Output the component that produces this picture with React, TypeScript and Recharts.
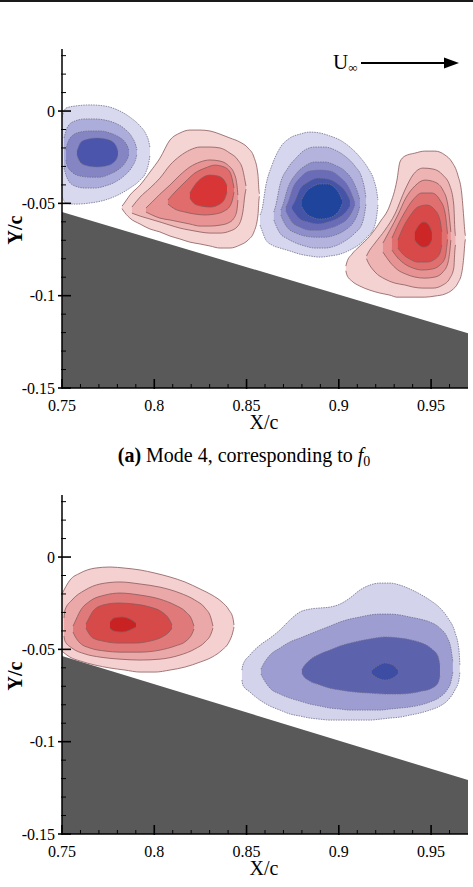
import React from 'react';
import { ComposedChart, Area, XAxis, YAxis } from 'recharts';

// each row: [X/c, lower Y/c, upper Y/c] of one filled contour band
type Band = [number, number, number];

const xMajor = [0.75, 0.8, 0.85, 0.9, 0.95];
const xLabels = ['0.75', '0.8', '0.85', '0.9', '0.95'];
const xMinor = [0.76, 0.77, 0.78, 0.79, 0.81, 0.82, 0.83, 0.84, 0.86, 0.87, 0.88, 0.89, 0.91, 0.92, 0.93, 0.94, 0.96];
const yMajor = [0, -0.05, -0.1, -0.15];
const yLabels = ['0', '-0.05', '-0.1', '-0.15'];
const yMinor = [0.03, 0.02, 0.01, -0.01, -0.02, -0.03, -0.04, -0.06, -0.07, -0.08, -0.09, -0.11, -0.12, -0.13, -0.14];

// ---------- (a) Mode 4 ----------
const wallA: Band[] = [[0.75, -0.15, -0.0547], [0.97, -0.15, -0.1203]];

const a1: Band[] = [
  [0.75, -0.0466, -0.0033], [0.7522, -0.0498, 0.0016], [0.757, -0.0504, 0.0027], [0.7652, -0.0498, 0.0033],
  [0.7733, -0.0482, 0.0027], [0.7803, -0.0455, 0.0005], [0.7868, -0.0417, -0.0033], [0.7923, -0.0374, -0.0081],
  [0.7955, -0.033, -0.0125], [0.7971, -0.0276, -0.0168], [0.7977, -0.0238, -0.02],
];
const a2: Band[] = [
  [0.7511, -0.0309, -0.0146], [0.7533, -0.0374, -0.0081], [0.757, -0.0406, -0.0054], [0.7625, -0.0417, -0.0043],
  [0.7679, -0.0417, -0.0043], [0.7733, -0.0406, -0.0049], [0.7787, -0.0385, -0.0065], [0.7841, -0.0347, -0.0098],
  [0.7879, -0.0303, -0.0141], [0.7901, -0.0255, -0.019], [0.7906, -0.0233, -0.0211],
];
const a3: Band[] = [
  [0.7522, -0.0265, -0.0211], [0.7527, -0.0293, -0.0184], [0.7554, -0.033, -0.0135], [0.7598, -0.0352, -0.0114],
  [0.7652, -0.0358, -0.0108], [0.7706, -0.0358, -0.0108], [0.776, -0.0341, -0.0119], [0.7809, -0.0314, -0.0141],
  [0.7841, -0.0282, -0.0168], [0.7858, -0.0249, -0.02], [0.7863, -0.0233, -0.0217],
];
const a4: Band[] = [
  [0.7581, -0.0238, -0.0217], [0.7587, -0.0255, -0.02], [0.7603, -0.0282, -0.0168], [0.7641, -0.0298, -0.0152],
  [0.769, -0.0303, -0.0146], [0.7738, -0.0298, -0.0152], [0.7776, -0.0282, -0.0168], [0.7798, -0.0255, -0.02],
  [0.7803, -0.0238, -0.0217],
];

const b1: Band[] = [
  [0.7825, -0.0528, -0.0515], [0.783, -0.0536, -0.0509], [0.7868, -0.058, -0.0455], [0.7923, -0.0612, -0.0401],
  [0.7977, -0.0639, -0.033], [0.8031, -0.0655, -0.0255], [0.8085, -0.0677, -0.0157], [0.8139, -0.0693, -0.0119],
  [0.8193, -0.071, -0.0103], [0.8248, -0.072, -0.0103], [0.8302, -0.0731, -0.0108], [0.8356, -0.0742, -0.0125],
  [0.841, -0.0742, -0.0146], [0.8464, -0.0726, -0.0168], [0.8508, -0.0699, -0.02], [0.854, -0.0655, -0.0249],
  [0.8562, -0.0563, -0.0347], [0.8567, -0.0482, -0.0428], [0.857, -0.0462, -0.0448],
];
const b2: Band[] = [
  [0.7879, -0.0553, -0.052], [0.7923, -0.0569, -0.0466], [0.7977, -0.0585, -0.0417], [0.8031, -0.0601, -0.0363],
  [0.8085, -0.0618, -0.0293], [0.8139, -0.0634, -0.0244], [0.8193, -0.0645, -0.0211], [0.8248, -0.0655, -0.0195],
  [0.8302, -0.0661, -0.0195], [0.8356, -0.0661, -0.02], [0.841, -0.065, -0.0228], [0.8453, -0.0623, -0.0265],
  [0.848, -0.0547, -0.032], [0.8491, -0.0455, -0.0374], [0.8497, -0.0423, -0.0406],
];
const b3: Band[] = [
  [0.7955, -0.0547, -0.0525], [0.7988, -0.0563, -0.0493], [0.8031, -0.058, -0.045], [0.8085, -0.059, -0.0401],
  [0.8139, -0.0601, -0.0347], [0.8193, -0.0612, -0.0303], [0.8248, -0.0623, -0.0276], [0.8302, -0.0623, -0.0265],
  [0.8356, -0.0618, -0.0271], [0.8399, -0.0607, -0.0293], [0.8432, -0.058, -0.0336], [0.8448, -0.0536, -0.0401],
  [0.8453, -0.0482, -0.0455],
];
const b4: Band[] = [
  [0.8074, -0.0504, -0.0482], [0.8112, -0.0531, -0.0439], [0.8166, -0.0547, -0.0385], [0.822, -0.0558, -0.0336],
  [0.8275, -0.0563, -0.0309], [0.8329, -0.0558, -0.0293], [0.8378, -0.0542, -0.0303], [0.841, -0.0515, -0.033],
  [0.8426, -0.0471, -0.0385], [0.8432, -0.0439, -0.0417],
];
const b5: Band[] = [
  [0.8193, -0.0471, -0.0444], [0.822, -0.0504, -0.0401], [0.8258, -0.0515, -0.0363], [0.8302, -0.052, -0.0347],
  [0.8345, -0.0509, -0.0352], [0.8378, -0.0482, -0.0374], [0.8394, -0.0439, -0.0406],
];

const c1: Band[] = [
  [0.8573, -0.0618, -0.0563], [0.8583, -0.0645, -0.0536], [0.8605, -0.0699, -0.0401], [0.8638, -0.0726, -0.0293],
  [0.8681, -0.0742, -0.02], [0.8735, -0.0758, -0.0146], [0.8789, -0.0775, -0.0125], [0.8843, -0.0785, -0.0114],
  [0.8898, -0.0791, -0.0119], [0.8952, -0.0785, -0.0135], [0.9006, -0.0775, -0.0157], [0.906, -0.0753, -0.0195],
  [0.9114, -0.072, -0.0249], [0.9158, -0.0677, -0.0309], [0.919, -0.0634, -0.0374], [0.9206, -0.0563, -0.0439],
  [0.9212, -0.0509, -0.0482],
];
const c2: Band[] = [
  [0.8648, -0.059, -0.0547], [0.8659, -0.0618, -0.0509], [0.8681, -0.0661, -0.0401], [0.8724, -0.0693, -0.0309],
  [0.8768, -0.0715, -0.0255], [0.8816, -0.0731, -0.0211], [0.8871, -0.0742, -0.0195], [0.8925, -0.0742, -0.0195],
  [0.8979, -0.0731, -0.0211], [0.9033, -0.0704, -0.0244], [0.9087, -0.0661, -0.0298], [0.9125, -0.0612, -0.0363],
  [0.9141, -0.0547, -0.0428], [0.9147, -0.0504, -0.0471],
];
const c3: Band[] = [
  [0.8686, -0.0563, -0.0536], [0.8697, -0.059, -0.0509], [0.8724, -0.0634, -0.0417], [0.8768, -0.0661, -0.0341],
  [0.8816, -0.0677, -0.0298], [0.8871, -0.0683, -0.0276], [0.8925, -0.0683, -0.0276], [0.8979, -0.0672, -0.0293],
  [0.9033, -0.0645, -0.0325], [0.9076, -0.0607, -0.0379], [0.9103, -0.0553, -0.0444], [0.9114, -0.0515, -0.0482],
];
const c4: Band[] = [
  [0.8713, -0.0542, -0.052], [0.8724, -0.0563, -0.0498], [0.8751, -0.0607, -0.0417], [0.8789, -0.0628, -0.0363],
  [0.8843, -0.0645, -0.0325], [0.8898, -0.0645, -0.032], [0.8952, -0.0634, -0.0325], [0.9006, -0.0612, -0.0358],
  [0.9049, -0.058, -0.0406], [0.9076, -0.0536, -0.0466], [0.9087, -0.0509, -0.0498],
];
const c5: Band[] = [
  [0.8746, -0.0531, -0.0515], [0.8757, -0.0547, -0.0498], [0.8789, -0.0585, -0.0423], [0.8833, -0.0601, -0.0385],
  [0.8887, -0.0612, -0.0363], [0.8941, -0.0601, -0.0368], [0.8995, -0.058, -0.0395], [0.9038, -0.0547, -0.0439],
  [0.906, -0.0515, -0.0482],
];
const c6: Band[] = [
  [0.88, -0.052, -0.0477], [0.8822, -0.0553, -0.0439], [0.8854, -0.0574, -0.0412], [0.8898, -0.0585, -0.0395],
  [0.8941, -0.058, -0.0395], [0.8979, -0.0563, -0.0417], [0.9006, -0.0531, -0.0455], [0.9017, -0.0504, -0.0482],
];

const d1: Band[] = [
  [0.9038, -0.0865, -0.084], [0.9044, -0.0888, -0.0818], [0.9071, -0.0921, -0.0775], [0.9114, -0.0948, -0.0731],
  [0.9168, -0.097, -0.0677], [0.9223, -0.0986, -0.0601], [0.9277, -0.0997, -0.0509], [0.9315, -0.1008, -0.0374],
  [0.9331, -0.1008, -0.0276], [0.9358, -0.1008, -0.0244], [0.9412, -0.1008, -0.0228], [0.9466, -0.1008, -0.0217],
  [0.9521, -0.1002, -0.0217], [0.9575, -0.0991, -0.0238], [0.9613, -0.097, -0.0276], [0.9645, -0.0932, -0.0347],
  [0.9667, -0.0872, -0.0455], [0.9678, -0.078, -0.059], [0.9683, -0.0715, -0.0655], [0.9686, -0.0695, -0.0675],
];
const d2: Band[] = [
  [0.915, -0.08, -0.0785], [0.9158, -0.0818, -0.0769], [0.9196, -0.0872, -0.0715], [0.925, -0.091, -0.0645],
  [0.9304, -0.0932, -0.0558], [0.9358, -0.0942, -0.0428], [0.9401, -0.0953, -0.0347], [0.9456, -0.0959, -0.0309],
  [0.951, -0.0959, -0.0314], [0.9564, -0.0942, -0.0347], [0.9602, -0.0905, -0.0406], [0.9623, -0.085, -0.0509],
  [0.9629, -0.0753, -0.0645], [0.9632, -0.0725, -0.0675],
];
const d3: Band[] = [
  [0.9239, -0.0764, -0.0715], [0.9277, -0.0818, -0.0645], [0.932, -0.0861, -0.0563], [0.9363, -0.0883, -0.0471],
  [0.9412, -0.0899, -0.0406], [0.9466, -0.0905, -0.0374], [0.9521, -0.0899, -0.0385], [0.9564, -0.0872, -0.0428],
  [0.9591, -0.0823, -0.0509], [0.9602, -0.0753, -0.0601], [0.9607, -0.0699, -0.0655],
];
const d4: Band[] = [
  [0.9288, -0.0753, -0.0688], [0.932, -0.0796, -0.0618], [0.9358, -0.0829, -0.0547], [0.9401, -0.085, -0.0482],
  [0.945, -0.0861, -0.0444], [0.9504, -0.0856, -0.0444], [0.9548, -0.0834, -0.0482], [0.9575, -0.0796, -0.0547],
  [0.9586, -0.0726, -0.0634], [0.9589, -0.0695, -0.0665],
];
const d5: Band[] = [
  [0.932, -0.0742, -0.0699], [0.9347, -0.0775, -0.0634], [0.9385, -0.0802, -0.0569], [0.9428, -0.0818, -0.052],
  [0.9477, -0.0818, -0.0509], [0.9521, -0.0802, -0.0536], [0.9548, -0.0769, -0.059], [0.9558, -0.0726, -0.0655],
];
const d6: Band[] = [
  [0.9412, -0.0699, -0.0655], [0.9434, -0.0726, -0.0618], [0.9461, -0.0737, -0.0601], [0.9488, -0.0726, -0.0618],
  [0.9504, -0.0699, -0.0655],
];

// ---------- second mode ----------
const wallB: Band[] = [[0.75, -0.15, -0.0536], [0.97, -0.15, -0.1208]];

const e1: Band[] = [
  [0.75, -0.051, -0.02], [0.7543, -0.0542, -0.0125], [0.7598, -0.0563, -0.0087], [0.7679, -0.0585, -0.006],
  [0.776, -0.0601, -0.0054], [0.7841, -0.0612, -0.006], [0.7923, -0.0623, -0.007], [0.8004, -0.0623, -0.0087],
  [0.8085, -0.0612, -0.0108], [0.8166, -0.0596, -0.0135], [0.8248, -0.0569, -0.0173], [0.8313, -0.0542, -0.0206],
  [0.8367, -0.0504, -0.0244], [0.8405, -0.046, -0.0287], [0.8426, -0.0406, -0.033], [0.8432, -0.0379, -0.0368],
];
const e2: Band[] = [
  [0.7511, -0.0428, -0.033], [0.7516, -0.0455, -0.0287], [0.7554, -0.0493, -0.0233], [0.7625, -0.0525, -0.0179],
  [0.7706, -0.0542, -0.0146], [0.7814, -0.0553, -0.0135], [0.7923, -0.0558, -0.0146], [0.8031, -0.0553, -0.0163],
  [0.8139, -0.0531, -0.0195], [0.822, -0.0498, -0.0233], [0.8275, -0.046, -0.0276], [0.8307, -0.0417, -0.033],
  [0.8318, -0.0385, -0.0374],
];
const e3: Band[] = [
  [0.756, -0.0406, -0.0374], [0.757, -0.0428, -0.0352], [0.7598, -0.0466, -0.0293], [0.7652, -0.0493, -0.0238],
  [0.7733, -0.0509, -0.0206], [0.7814, -0.0515, -0.0195], [0.7923, -0.0515, -0.0206], [0.8031, -0.0504, -0.0228],
  [0.8112, -0.0482, -0.026], [0.8172, -0.0455, -0.0298], [0.8204, -0.0417, -0.0341], [0.8215, -0.039, -0.0374],
];
const e4: Band[] = [
  [0.763, -0.0385, -0.0363], [0.7641, -0.0406, -0.0341], [0.7668, -0.0439, -0.0293], [0.7722, -0.0455, -0.026],
  [0.7803, -0.0466, -0.0249], [0.7895, -0.0466, -0.0255], [0.7977, -0.0455, -0.0271], [0.8042, -0.0433, -0.0298],
  [0.808, -0.0406, -0.0336], [0.8096, -0.0385, -0.0368],
];
const e5: Band[] = [
  [0.776, -0.0385, -0.0352], [0.7782, -0.0401, -0.033], [0.7825, -0.0406, -0.0325], [0.7868, -0.0395, -0.0336],
  [0.7901, -0.0379, -0.0358],
];

const f1: Band[] = [
  [0.8475, -0.0666, -0.0612], [0.848, -0.0693, -0.0585], [0.8518, -0.0731, -0.0531], [0.8573, -0.0775, -0.0477],
  [0.8627, -0.0807, -0.0439], [0.8681, -0.0829, -0.0395], [0.8735, -0.085, -0.0341], [0.8789, -0.0861, -0.0298],
  [0.8843, -0.0872, -0.0282], [0.8898, -0.0878, -0.0276], [0.8952, -0.0883, -0.0271], [0.9006, -0.0883, -0.0255],
  [0.906, -0.0883, -0.0222], [0.9114, -0.0883, -0.0179], [0.9168, -0.0883, -0.0152], [0.9223, -0.0878, -0.0141],
  [0.9277, -0.0872, -0.0141], [0.9331, -0.0867, -0.0152], [0.9385, -0.0856, -0.0173], [0.9439, -0.0845, -0.02],
  [0.9493, -0.0829, -0.0233], [0.9548, -0.0807, -0.0276], [0.9591, -0.0775, -0.033], [0.9629, -0.072, -0.0406],
  [0.9651, -0.0666, -0.0504], [0.9656, -0.0623, -0.0585],
];
const f2: Band[] = [
  [0.8578, -0.0634, -0.0607], [0.8589, -0.0655, -0.0585], [0.8627, -0.071, -0.0531], [0.8681, -0.0742, -0.0493],
  [0.8735, -0.0764, -0.046], [0.8789, -0.078, -0.0439], [0.8843, -0.0796, -0.0417], [0.8898, -0.0807, -0.0395],
  [0.8952, -0.0818, -0.0374], [0.9006, -0.0823, -0.0352], [0.906, -0.0829, -0.0336], [0.9114, -0.0829, -0.0325],
  [0.9168, -0.0829, -0.0314], [0.9223, -0.0829, -0.0309], [0.9277, -0.0823, -0.0309], [0.9331, -0.0818, -0.0314],
  [0.9385, -0.0812, -0.0325], [0.9439, -0.0802, -0.0336], [0.9493, -0.0785, -0.0352], [0.9548, -0.0758, -0.0385],
  [0.9586, -0.072, -0.0433], [0.9607, -0.0677, -0.0493], [0.9618, -0.0623, -0.0569],
];
const f3: Band[] = [
  [0.88, -0.063, -0.061], [0.8805, -0.0639, -0.0601], [0.8843, -0.0672, -0.0558], [0.8898, -0.0693, -0.0525],
  [0.8952, -0.071, -0.0504], [0.9006, -0.072, -0.0482], [0.9087, -0.0731, -0.046], [0.9168, -0.0737, -0.0444],
  [0.925, -0.0742, -0.0433], [0.9331, -0.0742, -0.0439], [0.9396, -0.0737, -0.045], [0.945, -0.0726, -0.0466],
  [0.9504, -0.071, -0.0498], [0.9537, -0.0683, -0.0536], [0.9548, -0.0645, -0.0585],
];
const f4: Band[] = [
  [0.9179, -0.0634, -0.0612], [0.9201, -0.065, -0.0596], [0.925, -0.0666, -0.0574], [0.9293, -0.0655, -0.0585],
  [0.932, -0.0634, -0.0612],
];

interface Blob { levels: Band[][]; fills: string[]; blue: boolean }

const blobsA: Blob[] = [
  { levels: [a1, a2, a3, a4], fills: ['#d8d8ef', '#adaddb', '#8585c4', '#4b55ab'], blue: true },
  { levels: [b1, b2, b3, b4, b5], fills: ['#f5d4d4', '#efb6b6', '#e89494', '#e06c6c', '#d83636'], blue: false },
  { levels: [c1, c2, c3, c4, c5, c6], fills: ['#d6d6ee', '#b3b3dd', '#8e8eca', '#6a6cb8', '#4654a8', '#1f449c'], blue: true },
  { levels: [d1, d2, d3, d4, d5, d6], fills: ['#f4d2d2', '#eeb4b4', '#e79393', '#e07070', '#d84a4a', '#cd2626'], blue: false },
];
const blobsB: Blob[] = [
  { levels: [e1, e2, e3, e4, e5], fills: ['#f5d0d0', '#eba8a8', '#e07a7a', '#d64a4a', '#c92222'], blue: false },
  { levels: [f1, f2, f3, f4], fills: ['#d3d3ec', '#9d9dd2', '#5d62ad', '#3d4da4'], blue: true },
];

const FONT = '"Liberation Serif", "Times New Roman", serif';
const rows = (b: Band[]) => b.map(([x, lo, hi]) => ({ x, y: [lo, hi] }));
const near = (arr: number[], v: number) => arr.findIndex((m) => Math.abs(m - v) < 1e-9);

function XTick(p: any) {
  const i = near(xMajor, p.payload.value);
  const major = i >= 0;
  return (
    <g>
      <line x1={p.x} x2={p.x} y1={p.y + (major ? 1 : 0)} y2={p.y - (major ? 9 : 4)} stroke="#000" strokeWidth={major ? 1.6 : 1} />
      {major && (
        <text x={p.x} y={p.y + 22.5} textAnchor="middle" fontSize={16} fill="#000" style={{ fontFamily: FONT }}>{xLabels[i]}</text>
      )}
    </g>
  );
}

function YTick(p: any) {
  const i = near(yMajor, p.payload.value);
  const major = i >= 0;
  return (
    <g>
      <line x1={p.x - (major ? 4 : 1)} x2={p.x + (major ? 9 : 4)} y1={p.y} y2={p.y} stroke="#000" strokeWidth={major ? 1.6 : 1} />
      {major && (
        <text x={p.x - 7} y={p.y + 5.5} textAnchor="end" fontSize={16} fill="#000" style={{ fontFamily: FONT }}>{yLabels[i]}</text>
      )}
    </g>
  );
}

function Panel({ wall, blobs, top }: { wall: Band[]; blobs: Blob[]; top: number }) {
  return (
    <div style={{ position: 'absolute', left: 0, top, width: 473, height: 440 }}>
      <ComposedChart width={473} height={440} margin={{ top: 49, right: 5, bottom: 12, left: 0 }}>
        <Area data={rows(wall)} dataKey="y" type="linear" fill="#595959" fillOpacity={1} stroke="none"
          dot={false} activeDot={false} isAnimationActive={false} />
        {blobs.flatMap((b, bi) =>
          b.levels.map((lv, li) => (
            <Area key={`${bi}-${li}`} data={rows(lv)} dataKey="y" type="monotone"
              fill={b.fills[li]} fillOpacity={1}
              stroke={b.blue ? '#6e6e8c' : '#8a5a5a'} strokeWidth={0.8}
              strokeDasharray={b.blue ? '1.5 1' : undefined}
              dot={false} activeDot={false} isAnimationActive={false} />
          ))
        )}
        <XAxis type="number" dataKey="x" domain={[0.75, 0.97]} allowDataOverflow
          ticks={[...xMajor, ...xMinor].sort((p, q) => p - q)} interval={0}
          height={40} tickLine={false} tickSize={0} tickMargin={0} tick={(p: any) => <XTick {...p} />}
          axisLine={{ stroke: '#000', strokeWidth: 1.5 }} />
        <YAxis type="number" domain={[-0.15, 0.0336]} allowDataOverflow
          ticks={[...yMajor, ...yMinor].sort((p, q) => q - p)} interval={0}
          width={62} tickLine={false} tickSize={0} tickMargin={0} tick={(p: any) => <YTick {...p} />}
          axisLine={{ stroke: '#000', strokeWidth: 1.5 }} />
      </ComposedChart>
    </div>
  );
}

export default function App() {
  return (
    <div style={{ position: 'absolute', left: 0, top: 0, width: 473, height: 887, background: '#fff', overflow: 'hidden' }}>
      <div style={{ position: 'absolute', left: 0, top: 0, width: 473, height: 2, background: '#1a1a1a' }} />
      <Panel wall={wallA} blobs={blobsA} top={0} />
      <Panel wall={wallB} blobs={blobsB} top={446} />
      <svg width={473} height={887} style={{ position: 'absolute', left: 0, top: 0, pointerEvents: 'none', fontFamily: FONT }}>
        <g fill="#000">
          <text x={264} y={429} fontSize={20} textAnchor="middle">X/c</text>
          <text x={264} y={875} fontSize={20} textAnchor="middle">X/c</text>
          <text x={22} y={230} fontSize={20} fontWeight="bold" textAnchor="middle" transform="rotate(-90 22 230)">Y/c</text>
          <text x={22} y={676} fontSize={20} fontWeight="bold" textAnchor="middle" transform="rotate(-90 22 676)">Y/c</text>
          <text x={244} y={462} fontSize={20} textAnchor="middle">
            <tspan fontWeight="bold">(a)</tspan> Mode 4, corresponding to <tspan fontStyle="italic">f</tspan>
            <tspan fontSize={14} dy={4}>0</tspan>
          </text>
          <text x={333} y={69} fontSize={21}>U<tspan fontSize={13} dy={3}>∞</tspan></text>
        </g>
        <line x1={361} y1={63} x2={448} y2={63} stroke="#000" strokeWidth={2.2} />
        <polygon points="444,57.5 459,63 444,68.5" fill="#000" />
      </svg>
    </div>
  );
}
